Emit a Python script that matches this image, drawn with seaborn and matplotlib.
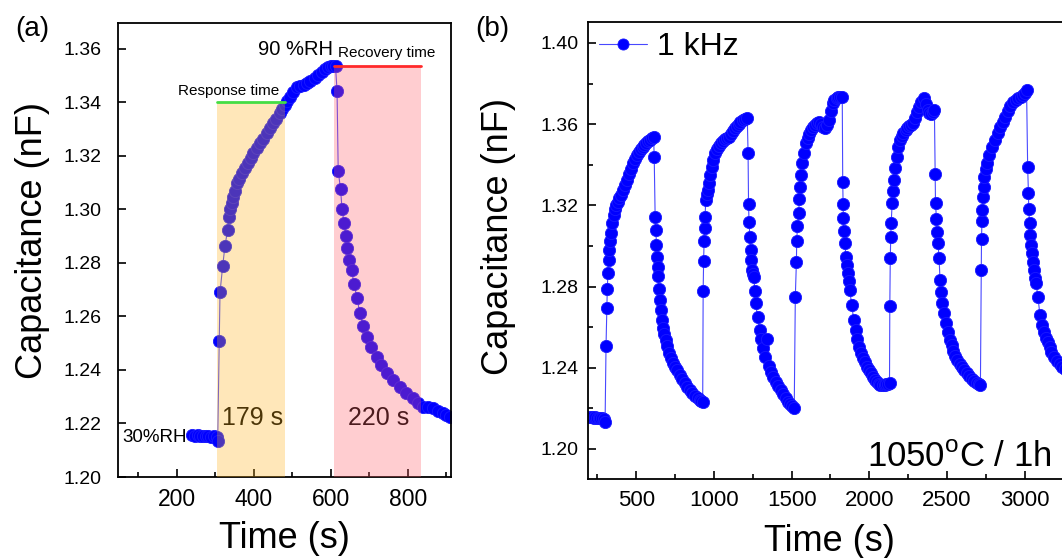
import numpy as np
import pandas as pd
import matplotlib
matplotlib.use("Agg")
import matplotlib.pyplot as plt
import seaborn as sns
from matplotlib.ticker import MultipleLocator, FormatStrFormatter

sns.set_style("ticks")
plt.rcParams['font.family'] = ['Liberation Sans', 'DejaVu Sans']
plt.rcParams['mathtext.fontset'] = 'custom'
plt.rcParams['mathtext.rm'] = 'Liberation Sans'
for key in ['text.color', 'axes.labelcolor', 'xtick.color', 'ytick.color', 'axes.edgecolor']:
    plt.rcParams[key] = 'black'

# ---------------- data: panel (a) ----------------
time_a = [240, 247, 254, 261, 268, 275, 282, 289, 296, 303, 306, 310, 312, 319, 325, 332, 335,
          338, 342, 346, 350, 355, 361, 368, 376, 385, 392, 398, 407, 416, 424, 433, 441, 450,
          458, 467, 474, 480, 487, 494, 502, 511, 520, 529, 537, 547, 558, 567, 576, 585, 593,
          600, 606, 612, 616, 619, 625, 629, 634, 639, 643, 648, 654, 660, 668, 675, 684, 693,
          705, 719, 731, 745, 762, 779, 796, 814, 827, 840, 853, 866, 879, 892, 900, 909]
cap_a = [1.2157, 1.2155, 1.2156, 1.2154, 1.2152, 1.2154, 1.2153, 1.2151, 1.2152, 1.2150, 1.2135,
         1.2510, 1.2690, 1.2790, 1.2865, 1.2925, 1.2970, 1.3000, 1.3025, 1.3048, 1.3070, 1.3098,
         1.3115, 1.3135, 1.3155, 1.3173, 1.3192, 1.3210, 1.3228, 1.3247, 1.3265, 1.3285, 1.3303,
         1.3322, 1.3340, 1.3360, 1.3375, 1.3391, 1.3407, 1.3422, 1.3440, 1.3457, 1.3462, 1.3467,
         1.3472, 1.3480, 1.3490, 1.3503, 1.3515, 1.3525, 1.3534, 1.3536, 1.3536, 1.3535, 1.3444,
         1.3145, 1.3076, 1.3002, 1.2951, 1.2901, 1.2855, 1.2811, 1.2774, 1.2720, 1.2670, 1.2612,
         1.2565, 1.2524, 1.2485, 1.2450, 1.2420, 1.2388, 1.2362, 1.2338, 1.2315, 1.2294, 1.2278,
         1.2263, 1.2260, 1.2257, 1.2247, 1.2238, 1.2232, 1.2226]

response_window = [303, 482]
response_level = 1.34
recovery_window = [607, 834]
recovery_level = 1.3536

# ---------------- data: panel (b) ----------------
time_b = [204, 215, 226, 237, 248, 259, 270, 281, 292, 300,
          306, 311, 314, 318, 322, 327, 333, 339, 347, 355, 364, 373, 382, 392, 405, 416, 429, 442,
          454, 467, 479, 492, 504, 516, 529, 541, 553, 566, 578, 590, 603, 612,
          616, 622, 627, 630, 634, 638, 641, 646, 652, 658, 664, 672, 680, 689, 700, 712, 725, 738,
          750, 763, 780, 796, 813, 829, 845, 862, 878, 895, 911, 920, 928,
          931, 934, 937, 940, 943, 948, 955, 961, 968, 976, 985, 997, 1010, 1022, 1035, 1047, 1060,
          1072, 1085, 1097, 1110, 1122, 1134, 1146, 1159, 1171, 1185, 1200, 1215,
          1220, 1223, 1226, 1232, 1237, 1242, 1246, 1252, 1257, 1263, 1269, 1281, 1294, 1306, 1318,
          1331, 1343, 1355, 1368, 1381, 1397, 1414, 1430, 1446, 1463, 1479, 1492, 1505, 1517,
          1524, 1531, 1533, 1538, 1546, 1550, 1553, 1559, 1565, 1578, 1591, 1603, 1615, 1627, 1640,
          1652, 1665, 1677, 1690, 1702, 1714, 1727, 1739, 1752, 1764, 1776, 1789, 1801, 1814, 1826,
          1829, 1831, 1833, 1836, 1843, 1850, 1856, 1862, 1868, 1874, 1887, 1900, 1912, 1924, 1936,
          1949, 1961, 1974, 1986, 1998, 2011, 2023, 2035, 2048, 2060, 2072, 2085, 2098, 2110, 2120,
          2130,
          2132, 2135, 2138, 2141, 2147, 2153, 2159, 2167, 2176, 2186, 2196, 2208, 2220, 2233, 2245,
          2258, 2270, 2283, 2295, 2307, 2319, 2335, 2351, 2363, 2375, 2386, 2398, 2410, 2419,
          2424, 2426, 2432, 2437, 2442, 2449, 2455, 2463, 2471, 2480, 2492, 2505, 2517, 2529, 2541,
          2554, 2566, 2581, 2597, 2612, 2628, 2643, 2659, 2674, 2690, 2703, 2715,
          2720, 2722, 2725, 2728, 2731, 2735, 2740, 2748, 2757, 2770, 2789, 2807, 2826, 2842, 2858,
          2875, 2892, 2908, 2925, 2942, 2958, 2975, 2990, 3000, 3012,
          3019, 3024, 3026, 3031, 3036, 3042, 3048, 3055, 3061, 3067, 3073, 3085, 3098, 3110, 3123,
          3135, 3148, 3160, 3172, 3186, 3205, 3225, 3242, 3260, 3280, 3300]
cap_b = [1.2155, 1.2155, 1.2154, 1.2155, 1.2153, 1.2152, 1.2153, 1.2150, 1.2148, 1.2135,
         1.2507, 1.2693, 1.2787, 1.2865, 1.2931, 1.2980, 1.3025, 1.3063, 1.3112, 1.3150, 1.3180,
         1.3200, 1.3215, 1.3235, 1.3251, 1.3275, 1.3300, 1.3325, 1.3352, 1.3380, 1.3407, 1.3430,
         1.3450, 1.3465, 1.3478, 1.3488, 1.3498, 1.3506, 1.3515, 1.3522, 1.3532, 1.3538,
         1.3440, 1.3144, 1.3079, 1.3005, 1.2947, 1.2898, 1.2852, 1.2790, 1.2734, 1.2685, 1.2636,
         1.2595, 1.2565, 1.2537, 1.2505, 1.2475, 1.2448, 1.2425, 1.2405, 1.2389, 1.2365, 1.2343,
         1.2323, 1.2305, 1.2290, 1.2274, 1.2262, 1.2250, 1.2241, 1.2235, 1.2233,
         1.2780, 1.2928, 1.3026, 1.3087, 1.3144, 1.3227, 1.3255, 1.3276, 1.3310, 1.3350, 1.3391,
         1.3425, 1.3457, 1.3475, 1.3492, 1.3506, 1.3515, 1.3525, 1.3532, 1.3538, 1.3552, 1.3566,
         1.3580, 1.3592, 1.3602, 1.3612, 1.3620, 1.3625, 1.3629,
         1.3457, 1.3207, 1.3120, 1.3043, 1.2980, 1.2931, 1.2882, 1.2860, 1.2849, 1.2780, 1.2718,
         1.2650, 1.2586, 1.2540, 1.2495, 1.2455, 1.2542, 1.2410, 1.2380, 1.2356, 1.2330, 1.2310,
         1.2291, 1.2270, 1.2252, 1.2233, 1.2222, 1.2210, 1.2200,
         1.2750, 1.2923, 1.3026, 1.3098, 1.3161, 1.3230, 1.3292, 1.3350, 1.3407, 1.3460, 1.3506,
         1.3530, 1.3550, 1.3571, 1.3585, 1.3598, 1.3606, 1.3612, 1.3600, 1.3588, 1.3580, 1.3595,
         1.3621, 1.3665, 1.3703, 1.3718, 1.3728, 1.3732, 1.3733, 1.3732,
         1.3317, 1.3207, 1.3136, 1.3076, 1.3013, 1.2947, 1.2905, 1.2866, 1.2825, 1.2783, 1.2710,
         1.2636, 1.2585, 1.2543, 1.2504, 1.2475, 1.2450, 1.2427, 1.2406, 1.2390, 1.2372, 1.2355,
         1.2340, 1.2330, 1.2322, 1.2317, 1.2315, 1.2316, 1.2318, 1.2322, 1.2324,
         1.2705, 1.2940, 1.3043, 1.3115, 1.3210, 1.3270, 1.3325, 1.3385, 1.3440, 1.3485, 1.3522,
         1.3540, 1.3556, 1.3571, 1.3582, 1.3590, 1.3597, 1.3604, 1.3630, 1.3660, 1.3686, 1.3710,
         1.3727, 1.3700, 1.3670, 1.3653, 1.3650, 1.3660, 1.3670,
         1.3355, 1.3210, 1.3131, 1.3070, 1.3013, 1.2940, 1.2833, 1.2775, 1.2720, 1.2669, 1.2620,
         1.2575, 1.2537, 1.2510, 1.2483, 1.2460, 1.2439, 1.2420, 1.2403, 1.2388, 1.2374, 1.2360,
         1.2347, 1.2335, 1.2324, 1.2318, 1.2315,
         1.2882, 1.3035, 1.3123, 1.3177, 1.3241, 1.3292, 1.3340, 1.3380, 1.3407, 1.3450, 1.3489,
         1.3520, 1.3555, 1.3585, 1.3612, 1.3637, 1.3665, 1.3690, 1.3711, 1.3720, 1.3728, 1.3736,
         1.3745, 1.3755, 1.3768,
         1.3388, 1.3260, 1.3181, 1.3112, 1.3054, 1.3005, 1.2964, 1.2920, 1.2882, 1.2840, 1.2815,
         1.2750, 1.2660, 1.2610, 1.2575, 1.2548, 1.2528, 1.2500, 1.2480, 1.2455, 1.2432, 1.2418,
         1.2406, 1.2395, 1.2385, 1.2378]

legend_label = "1 kHz"

df_a = pd.DataFrame({"t": time_a, "c": cap_a})
df_b = pd.DataFrame({"t": time_b, "c": cap_b})

W, H = 1062, 558
fig = plt.figure(figsize=(W / 100, H / 100), dpi=100)
ax1 = fig.add_axes([118 / W, (H - 477) / H, 333 / W, 454 / H])
ax2 = fig.add_axes([588 / W, (H - 479) / H, 545.5 / W, 457 / H])

blue = '#0000FF'
line_kw = dict(marker='o', color='#4848FF', linewidth=0.8,
               markerfacecolor=blue, markeredgecolor='#1A1AFF', markeredgewidth=0.6,
               estimator=None, sort=False)

# ---- panel (a)
sns.lineplot(data=df_a, x="t", y="c", ax=ax1, zorder=2, legend=False, **line_kw)
for ln in ax1.get_lines():
    ln.set_markersize(8.8)
ax1.fill_between(response_window, 1.20, response_level, color='#FFB21A', alpha=0.30,
                 lw=0, zorder=3)
ax1.fill_between(recovery_window, 1.20, recovery_level, color='#FF5A64', alpha=0.30,
                 lw=0, zorder=3)
ax1.plot(response_window, [response_level] * 2, color='#44DD44', lw=2, zorder=4)
ax1.plot([recovery_window[0] + 1, recovery_window[1]], [recovery_level] * 2,
         color='#FF2A2A', lw=2, zorder=4)

ax1.text(605, 1.3597, "90 %RH", ha='right', va='center', fontsize=14.5, zorder=5)
ax1.text(618, 1.3585, "Recovery time", ha='left', va='center', fontsize=11, zorder=5)
ax1.text(335, 1.3443, "Response time", ha='center', va='center', fontsize=11, zorder=5)
ax1.text(57, 1.2146, "30%RH", ha='left', va='center', fontsize=13.5, zorder=5)
ax1.text(317, 1.2221, "179 s", ha='left', va='center', fontsize=18, color='black', zorder=1)
ax1.text(644, 1.2221, "220 s", ha='left', va='center', fontsize=18, color='black', zorder=1)

ax1.set_xlim(47, 912)
ax1.set_ylim(1.20, 1.3697)
ax1.xaxis.set_major_locator(MultipleLocator(200))
ax1.xaxis.set_minor_locator(MultipleLocator(100))
ax1.yaxis.set_major_locator(MultipleLocator(0.02))
ax1.yaxis.set_major_formatter(FormatStrFormatter('%.2f'))
ax1.tick_params(axis='both', which='major', direction='in', length=6, width=1.2)
ax1.tick_params(axis='both', which='minor', direction='in', length=3.5, width=1.2)
ax1.tick_params(axis='x', which='major', labelsize=16.5, pad=8)
ax1.tick_params(axis='y', which='major', labelsize=14, pad=12)
ax1.set_xlabel("Time (s)", fontsize=26)
ax1.set_ylabel("Capacitance (nF)", fontsize=26)
ax1.xaxis.set_label_coords(0.5, -0.098)
ax1.yaxis.set_label_coords(-0.205, 0.52)
for s in ax1.spines.values():
    s.set_linewidth(1.3)
    s.set_color('black')

# ---- panel (b)
sns.lineplot(data=df_b, x="t", y="c", ax=ax2, zorder=2, label=legend_label, **line_kw)
for ln in ax2.get_lines():
    ln.set_markersize(8.8)
ax2.text(1986, 1.1911, r"1050$^\mathregular{o}$C / 1h", ha='left', va='baseline',
         fontsize=25)
ax2.set_xlim(190, 3700)
ax2.set_ylim(1.1852, 1.4103)
ax2.set_xticks([500, 1000, 1500, 2000, 2500, 3000])
ax2.xaxis.set_minor_locator(MultipleLocator(250))
ax2.yaxis.set_major_locator(MultipleLocator(0.04))
ax2.yaxis.set_minor_locator(MultipleLocator(0.02))
ax2.yaxis.set_major_formatter(FormatStrFormatter('%.2f'))
ax2.tick_params(axis='both', which='major', direction='in', length=6, width=1.2)
ax2.tick_params(axis='both', which='minor', direction='in', length=3.5, width=1.2)
ax2.tick_params(axis='x', which='major', labelsize=16, pad=8)
ax2.tick_params(axis='y', which='major', labelsize=14, pad=7)
ax2.set_xlabel("Time (s)", fontsize=26)
ax2.set_ylabel("Capacitance (nF)", fontsize=26)
ax2.xaxis.set_label_coords(0.443, -0.098)
ax2.yaxis.set_label_coords(-0.132, 0.53)
for s in ax2.spines.values():
    s.set_linewidth(1.3)
    s.set_color('black')
handles, labels = ax2.get_legend_handles_labels()
leg = ax2.legend(handles, labels, loc='center left', bbox_to_anchor=(0.0202, 0.945),
                 frameon=False, fontsize=23, handlelength=1.5, handletextpad=0.3,
                 borderpad=0, borderaxespad=0)
for h in leg.legend_handles:
    h.set_markersize(8)

fig.text(15 / W, 1 - 29 / H, "(a)", ha='left', va='center', fontsize=20)
fig.text(475 / W, 1 - 29 / H, "(b)", ha='left', va='center', fontsize=20)

fig.savefig("out.png", dpi=100)
